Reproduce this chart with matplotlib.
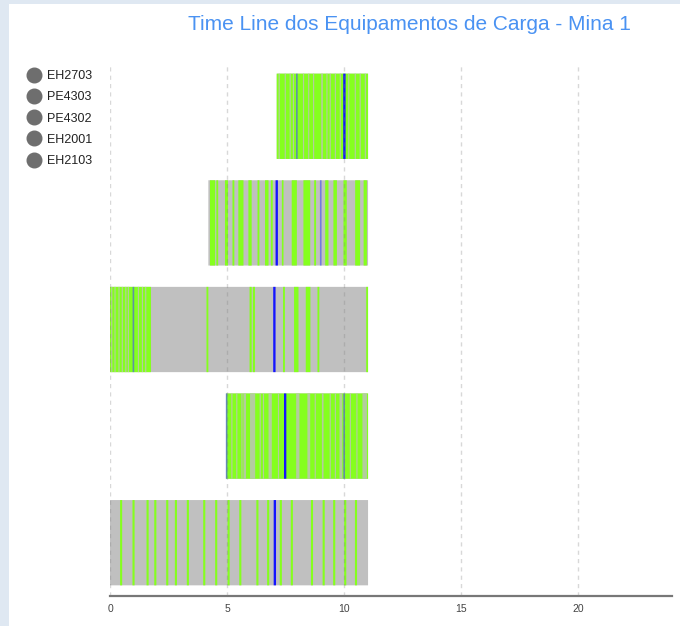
import matplotlib
matplotlib.use('Agg')
import matplotlib.pyplot as plt
from matplotlib.lines import Line2D
from matplotlib.patches import Rectangle

plt.rcParams['font.family'] = ['Liberation Sans', 'DejaVu Sans']

# ---------------- data ----------------
equipment = ['EH2703', 'PE4303', 'PE4302', 'EH2001', 'EH2103']
start_h = [7.12, 4.20, 0.00, 4.96, 0.00]
end_h = [11.02, 11.02, 11.02, 11.02, 11.02]

# operating (green) periods, hours
green_periods = [
    [(7.12, 11.02)],
    [(4.27, 4.49), (4.54, 4.62), (4.91, 5.04), (5.23, 5.31), (5.48, 5.70),
     (5.91, 6.05), (6.30, 6.38), (6.62, 6.77), (6.87, 6.95), (7.34, 7.41),
     (7.76, 7.98), (8.26, 8.55), (8.72, 8.80), (9.19, 9.33), (9.54, 9.69),
     (9.97, 10.11), (10.47, 10.68), (10.83, 10.97)],
    [(0.00, 1.75), (4.12, 4.20), (5.96, 6.05), (6.10, 6.19), (7.39, 7.47),
     (7.86, 8.05), (8.36, 8.56), (8.86, 8.94), (10.94, 11.02)],
    [(4.96, 11.02)],
    [(0.43, 0.52), (0.96, 1.05), (1.56, 1.65), (1.89, 1.98), (2.40, 2.49),
     (2.77, 2.86), (3.28, 3.37), (3.98, 4.07), (4.49, 4.58), (5.02, 5.11),
     (5.52, 5.61), (6.25, 6.34), (6.71, 6.80), (7.25, 7.34), (7.72, 7.81),
     (8.58, 8.67), (9.08, 9.17), (9.53, 9.62), (10.00, 10.09), (10.46, 10.55)],
]

# short stops (gray) inside operating periods, hours
stop_periods = [
    [(7.20, 7.25), (7.46, 7.51), (7.67, 7.72), (7.81, 7.86), (8.24, 8.29),
     (8.46, 8.51), (8.67, 8.72), (9.02, 9.09), (9.24, 9.29), (9.38, 9.43),
     (9.60, 9.65), (9.81, 9.86), (10.17, 10.22), (10.45, 10.50),
     (10.66, 10.71), (10.88, 10.93)],
    [],
    [(0.05, 0.10), (0.19, 0.24), (0.36, 0.41), (0.50, 0.55), (0.65, 0.70),
     (0.76, 0.81), (1.19, 1.24), (1.36, 1.41), (1.50, 1.55)],
    [(5.18, 5.23), (5.39, 5.44), (5.61, 5.66), (5.70, 5.81), (5.98, 6.20),
     (6.39, 6.44), (6.53, 6.58), (6.77, 6.91), (7.17, 7.22), (7.95, 8.09),
     (8.43, 8.55), (8.74, 8.79), (9.05, 9.12), (9.38, 9.43), (9.60, 9.65),
     (9.80, 9.92), (10.24, 10.29), (10.52, 10.57), (10.78, 10.97)],
    [],
]

# events (blue markers), hours
events_main = [[10.01], [7.12], [7.02], [7.48], [7.04]]
events_faint = [[7.98], [9.00], [1.00], [4.98, 10.00], []]

x_ticks = [0, 5, 10, 15, 20]
title = 'Time Line dos Equipamentos de Carga - Mina 1'

# ---------------- figure ----------------
W, H = 680, 626
fig = plt.figure(figsize=(W / 100, H / 100), dpi=100, facecolor='#dfe8f2')
fig.add_artist(Rectangle((9 / W, 0), 1, 1 - 4 / H, transform=fig.transFigure,
                         facecolor='white', edgecolor='none', zorder=0))

ax = fig.add_axes([110 / W, 30 / H, 562 / W, 533 / H])
ax.set_facecolor('none')

GRAY = '#c0c0c0'
GREEN = '#85ff1e'
BLUE = '#1414ff'
BAR_H = 0.8


def spans(periods):
    return [(s, e - s) for s, e in periods]


def bars(ax, xr, yb, **kw):
    return ax.broken_barh(xr, yb, linewidth=0, snap=False,
                          antialiased=True, **kw)


for i in range(len(equipment)):
    yb = (i - BAR_H / 2, BAR_H)
    bars(ax, [(start_h[i], end_h[i] - start_h[i])], yb,
         facecolor=GRAY, zorder=1)
    bars(ax, spans(green_periods[i]), yb, facecolor=GREEN, zorder=1.1)
    if stop_periods[i]:
        bars(ax, spans(stop_periods[i]), yb, facecolor=GRAY,
             alpha=0.8, zorder=1.2)
    for t in events_main[i]:
        bars(ax, [(t - 0.05, 0.10)], yb, facecolor=BLUE, zorder=1.3)
    for t in events_faint[i]:
        bars(ax, [(t - 0.035, 0.07)], yb, facecolor='#4a55f0',
             alpha=0.65, zorder=1.3)

ax.set_xlim(0, 24)
ax.set_ylim(len(equipment) - 0.5, -0.5)
ax.set_xticks(x_ticks)
ax.set_xticklabels([str(t) for t in x_ticks])
ax.set_yticks([])
ax.tick_params(axis='x', length=0, labelsize=7.5, colors='#444444', pad=6)
for s in ['top', 'left', 'right']:
    ax.spines[s].set_visible(False)
ax.spines['bottom'].set_color('#777777')
ax.spines['bottom'].set_linewidth(1.6)
ax.set_axisbelow(False)
ax.grid(axis='x', color='#808080', alpha=0.3, linewidth=1,
        linestyle=(0, (3, 3)))

fig.text(409 / W, 1 - 25 / H, title, ha='center', va='center',
         fontsize=15, color='#4a92f2')

handles = [Line2D([], [], marker='o', linestyle='none', markersize=10.5,
                  markerfacecolor='#6e6e6e', markeredgecolor='#6e6e6e')
           for _ in equipment]
fig.legend(handles, equipment, loc='upper left',
           bbox_to_anchor=(28 / W, 1 - 70 / H), frameon=False,
           fontsize=9, labelspacing=0.74, handlelength=1.0,
           handletextpad=0.55, borderpad=0, borderaxespad=0,
           labelcolor='#222222')

fig.savefig('out.png', dpi=100, facecolor=fig.get_facecolor())
